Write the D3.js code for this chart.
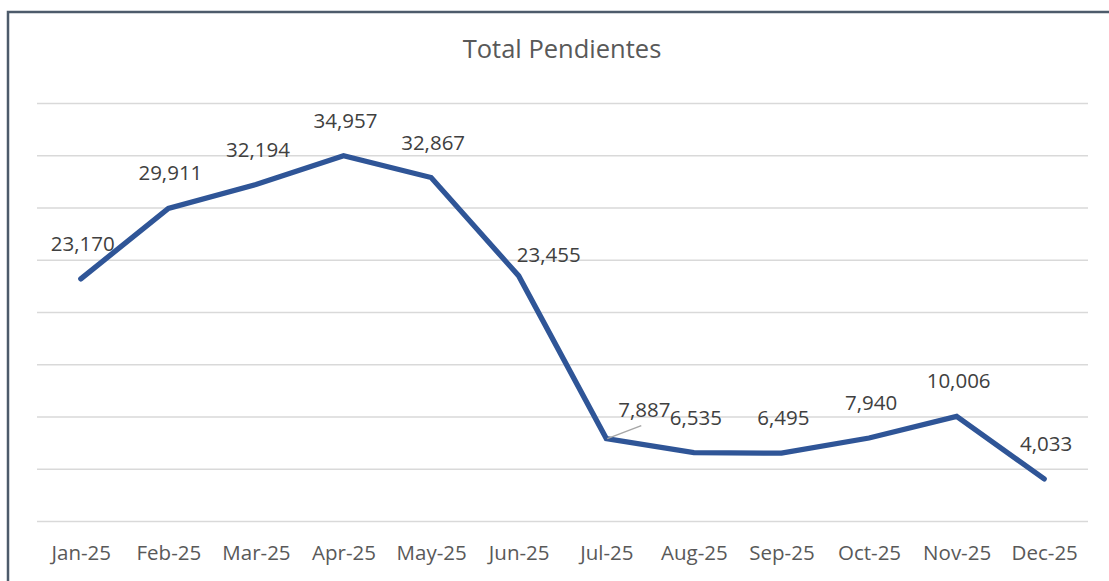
<!DOCTYPE html>
<html>
<head>
<meta charset="utf-8">
<script src="https://cdn.jsdelivr.net/npm/d3@7"></script>
<style>
  html, body { margin: 0; padding: 0; background: #fff; }
  svg { display: block; font-family: 'Open Sans', sans-serif; }
</style>
</head>
<body>
<svg id="chart"></svg>
<script>
const months = ['Jan-25', 'Feb-25', 'Mar-25', 'Apr-25', 'May-25', 'Jun-25',
                'Jul-25', 'Aug-25', 'Sep-25', 'Oct-25', 'Nov-25', 'Dec-25']
const pendientes = [23170, 29911, 32194, 34957, 32867, 23455,
                    7887, 6535, 6495, 7940, 10006, 4033]
const gridTicks = [0, 5000, 10000, 15000, 20000, 25000, 30000, 35000, 40000]
const title = 'Total Pendientes'

let width = 1109
let height = 581
let plotLeft = 37
let plotRight = 1088
let plotTop = 103
let plotBottom = 521

let svg = d3.select('#chart')
  .attr('width', width)
  .attr('height', height)

let x = d3.scalePoint()
  .domain(months)
  .range([plotLeft, plotRight])
  .padding(0.5)

let y = d3.scaleLinear()
  .domain([0, 40000])
  .range([plotBottom, plotTop])

let fmt = d3.format(',')

// outer frame (cut by the window on the right and bottom)
svg.append('rect')
  .attr('x', 8)
  .attr('y', 12)
  .attr('width', 1130)
  .attr('height', 600)
  .attr('fill', 'none')
  .attr('stroke', '#4d5b6b')
  .attr('stroke-width', 2.5)

svg.append('text')
  .text(title)
  .attr('x', 562)
  .attr('y', 58)
  .attr('text-anchor', 'middle')
  .attr('fill', '#595959')
  .attr('font-size', 25.5)

let grid = d3.axisLeft(y)
  .tickValues(gridTicks)
  .tickSize(-(plotRight - plotLeft))
  .tickFormat('')

svg.append('g')
  .attr('transform', 'translate(' + plotLeft + ',0)')
  .call(grid)
  .call(g => g.select('.domain').remove())
  .call(g => g.selectAll('line').attr('stroke', '#d9d9d9').attr('stroke-width', 1.5))

let xAxis = d3.axisBottom(x).tickSize(0).tickPadding(0)

svg.append('g')
  .attr('transform', 'translate(0,' + plotBottom + ')')
  .call(xAxis)
  .call(g => g.select('.domain').remove())
  .call(g => g.selectAll('text')
    .attr('dy', null)
    .attr('y', 39)
    .attr('fill', '#595959')
    .attr('font-size', 20.5)
    .attr('font-family', "'Open Sans', sans-serif"))

let pts = months.map((m, i) => ({ m: m, v: pendientes[i] }))

let line = d3.line()
  .x(d => x(d.m))
  .y(d => y(d.v))

svg.append('path')
  .datum(pts)
  .attr('d', line)
  .attr('fill', 'none')
  .attr('stroke', '#2f5597')
  .attr('stroke-width', 5.3)
  .attr('stroke-linejoin', 'miter')
  .attr('stroke-linecap', 'round')

// hand-moved labels in the original (Jun, Jul)
let moved = {
  'Jun-25': { dx: 30, dy: -14 },
  'Jul-25': { dx: 38, dy: -22 }
}

// leader line for the Jul label
svg.append('line')
  .attr('x1', x('Jul-25') + 1)
  .attr('y1', y(7887))
  .attr('x2', x('Jul-25') + 35)
  .attr('y2', y(7887) - 13)
  .attr('stroke', '#a6a6a6')
  .attr('stroke-width', 1.5)

svg.append('g')
  .selectAll('text')
  .data(pts)
  .enter()
  .append('text')
  .text(d => fmt(d.v))
  .attr('x', d => x(d.m) + (moved[d.m] ? moved[d.m].dx : 2))
  .attr('y', d => y(d.v) + (moved[d.m] ? moved[d.m].dy : -28))
  .attr('text-anchor', 'middle')
  .attr('fill', '#404040')
  .attr('font-size', 20.5)
</script>
</body>
</html>
